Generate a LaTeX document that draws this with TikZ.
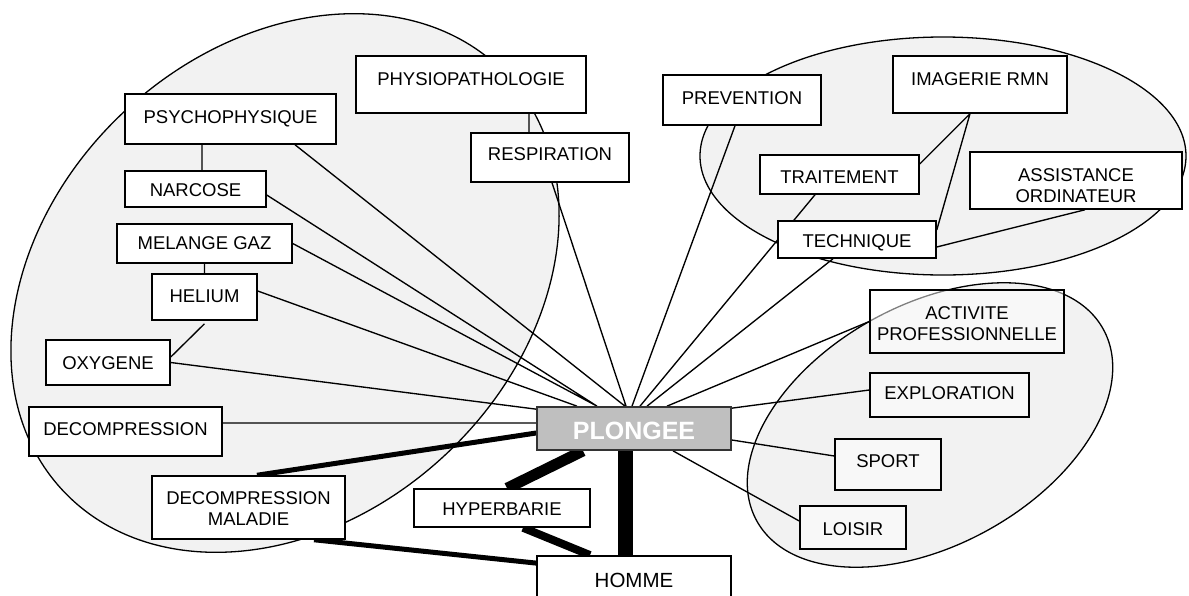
\documentclass[tikz,border=0pt]{standalone}
\usepackage{fontspec}
\setmainfont{Liberation Sans}
\usetikzlibrary{positioning, backgrounds}

\tikzset{
    box/.style={draw, fill=white, line width=1.5pt, inner sep=0pt,
        font=\fontsize{18.5pt}{21pt}\selectfont},
    seebox/.style={box, fill opacity=0.5, text opacity=1},
    hub/.style={draw=black!80, fill=black!25, line width=1.7pt, inner sep=0pt,
        text=white, font=\fontsize{25pt}{28pt}\selectfont\bfseries},
    blob/.style={draw, fill=black!5, line width=1.3pt},
    link/.style={line width=1.35pt},
    fat/.style={line width=#1}
}

\begin{document}
\begin{tikzpicture}[x=1pt, y=-1pt]
    \useasboundingbox (0,0) rectangle (1189,595);

    % left group
    \node[box, minimum width=211pt, text height=29.3pt, text depth=20.7pt] (psycho) at (230.5,119) {PSYCHOPHYSIQUE};
    \node[box, minimum width=230pt, text height=29.3pt, text depth=27.7pt] (physio) at (471,84.5) {PHYSIOPATHOLOGIE};
    \node[box, minimum width=158pt, text height=27.3pt, text depth=21.7pt] (resp) at (550,157.5) {RESPIRATION};
    \node[box, minimum width=141pt, text height=25.3pt, text depth=10.7pt] (narcose) at (195.5,189) {NARCOSE};
    \node[box, minimum width=175pt, text height=25.3pt, text depth=13.7pt] (melange) at (204.5,243.5) {MELANGE GAZ};
    \node[box, minimum width=105pt, text height=28.3pt, text depth=17.7pt] (helium) at (204.5,297) {HELIUM};
    \node[box, minimum width=124pt, text height=29.3pt, text depth=15.7pt] (oxygene) at (108,362.5) {OXYGENE};
    \node[box, minimum width=193pt, text height=28.3pt, text depth=20.7pt] (decomp) at (125.5,431.5) {DECOMPRESSION};
    \node[box, text width=193pt, align=center, text height=28.3pt, text depth=34.7pt] (dmal) at (248.5,507.5) {DECOMPRESSION\\MALADIE};
    \node[box, minimum width=176pt, text height=26.3pt, text depth=11.7pt] (hyper) at (502,508) {HYPERBARIE};

    % centre
    \node[hub, minimum width=194pt, text height=32.3pt, text depth=10.7pt] (plongee) at (634,428.5) {PLONGEE};
    \node[box, minimum width=194pt, text height=31.7pt, text depth=30pt,
        font=\fontsize{20.5pt}{24pt}\selectfont] (homme) at (634,586.7) {HOMME};

    % top right group
    \node[box, minimum width=158pt, text height=29.3pt, text depth=20.7pt] (prev) at (742,100) {PREVENTION};
    \node[box, minimum width=174pt, text height=29.3pt, text depth=27.7pt] (imag) at (980,84.5) {IMAGERIE RMN};
    \node[box, minimum width=159pt, text height=28.3pt, text depth=10.7pt] (trait) at (839.5,174.5) {TRAITEMENT};
    \node[box, minimum width=158pt, text height=26.3pt, text depth=10.7pt] (techn) at (857,239.5) {TECHNIQUE};
    \node[box, text width=212pt, align=center, text height=29.3pt, text depth=27.7pt] (assist) at (1076,180.5) {ASSISTANCE\\ORDINATEUR};

    % bottom right group
    \node[seebox, text width=194pt, align=center, text height=29.3pt, text depth=33.7pt] (activ) at (967,321.5) {ACTIVITE\\PROFESSIONNELLE};
    \node[seebox, minimum width=159pt, text height=26.3pt, text depth=17.7pt] (explor) at (949.5,395) {EXPLORATION};
    \node[seebox, minimum width=106pt, text height=28.3pt, text depth=22.7pt] (sport) at (888,464.5) {SPORT};
    \node[seebox, minimum width=106pt, text height=29.3pt, text depth=13.7pt] (loisir) at (853,527.5) {LOISIR};

    \begin{scope}[on background layer]
        \draw[blob, rotate around={43:(285,283)}] (285,283) ellipse [x radius=304, y radius=235];
        \draw[blob] (943,156) ellipse [x radius=243, y radius=119];
        \draw[blob, rotate around={29:(930,425)}] (930,425) ellipse [x radius=198, y radius=120];

        \draw[link]
            ([xshift=64.5pt]psycho.south) -- ([xshift=-9pt]plongee.north)
            ([yshift=-6pt]narcose.east) -- ([xshift=-37pt]plongee.north)
            (melange.east) -- ([xshift=-37pt]plongee.north)
            ([yshift=6pt]helium.east) -- ([xshift=-57pt]plongee.north)
            (oxygene.east) -- ([yshift=-3pt]plongee.north west)
            ([yshift=8.5pt]decomp.east) -- ([yshift=5.5pt]plongee.west)
            ([xshift=2pt]resp.south) -- ([xshift=-8pt]plongee.north)
            ([xshift=-7pt]prev.south) -- ([xshift=-2pt]plongee.north)
            ([xshift=-24.5pt]trait.south) -- ([xshift=6pt]plongee.north)
            ([xshift=-24pt]techn.south) -- ([xshift=13pt]plongee.north)
            (activ.west) -- ([xshift=33pt]plongee.north)
            ([yshift=5pt]explor.west) -- ([yshift=-2pt]plongee.north east)
            ([yshift=8.5pt]sport.west) -- ([yshift=-11.5pt]plongee.east)
            ([yshift=6.5pt]loisir.west) -- ([xshift=39pt]plongee.south)
            ([xshift=-28.5pt]psycho.south) -- ([xshift=6.5pt]narcose.north)
            (melange.south) -- (helium.north)
            ([yshift=-3pt]helium.south) -- ([yshift=5.5pt]oxygene.east)
            ([xshift=58pt]physio.south) -- ([xshift=-21pt]resp.north)
            ([xshift=-10pt]imag.south) -- ([yshift=10.5pt]trait.east)
            ([xshift=-10pt]imag.south) -- ([yshift=9.5pt]techn.east)
            ([xshift=9pt]assist.south) -- ([yshift=-7.5pt]techn.east);

        \draw[fat=5pt] ([xshift=8.5pt]dmal.north) -- ([yshift=-4.5pt]plongee.west);
        \draw[fat=5pt] ([xshift=65.5pt]dmal.south) -- ([yshift=-8pt]homme.north west);
        \draw[fat=11pt] ([xshift=-51pt]plongee.south) -- ([xshift=5pt]hyper.north);
        \draw[fat=8pt] ([xshift=21pt]hyper.south) -- ([xshift=-44pt]homme.north);
        \draw[fat=15pt] ([xshift=-9pt]plongee.south) -- ([xshift=-9pt]homme.north);
    \end{scope}
\end{tikzpicture}
\end{document}
